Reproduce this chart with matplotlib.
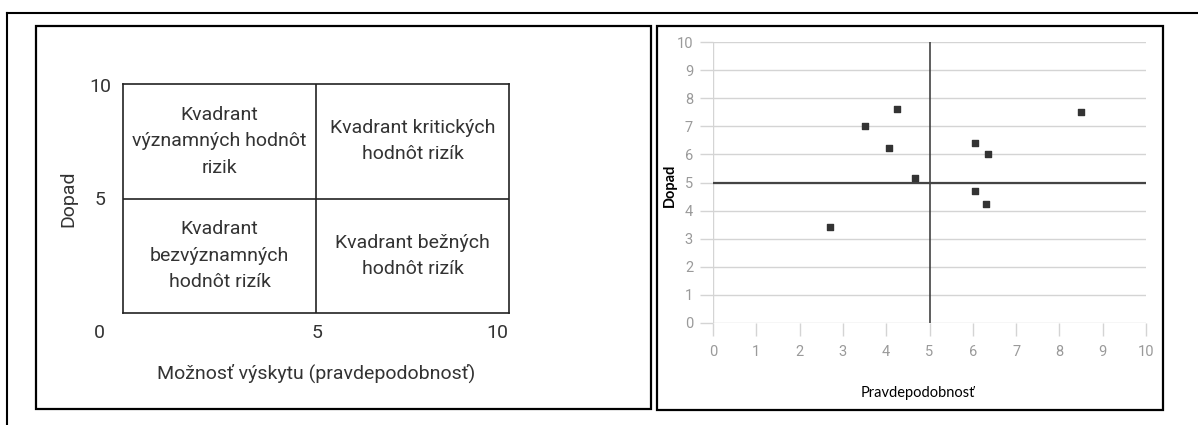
import matplotlib.pyplot as plt
from matplotlib.patches import Rectangle
from matplotlib.lines import Line2D

W, H = 1198, 425

# Quadrant labels (left diagram)
quadrant_labels = [
    "Kvadrant\nvýznamných hodnôt\nrizik",
    "Kvadrant kritických\nhodnôt rizík",
    "Kvadrant\nbezvýznamných\nhodnôt rizík",
    "Kvadrant bežných\nhodnôt rizík",
]
quadrant_pos = [(2.5, 7.5), (7.5, 7.5), (2.5, 2.5), (7.5, 2.5)]

# Risk points (right scatter)
prob = [2.71, 3.52, 4.26, 4.06, 4.66, 6.06, 6.35, 6.06, 6.30, 8.51]
impact = [3.40, 7.02, 7.62, 6.22, 5.16, 6.41, 6.01, 4.71, 4.22, 7.51]
ticks = list(range(0, 11))


def fx(x):
    return x / W


def fy(y):
    return 1 - y / H


fig = plt.figure(figsize=(W / 100, H / 100), dpi=100)
fig.patch.set_facecolor('white')

# outer frame + panel boxes (pixel coords of the reference)
fig.add_artist(Line2D([fx(7), fx(1198)], [fy(13), fy(13)], color='black', lw=1.5))
fig.add_artist(Line2D([fx(7), fx(7)], [fy(13), fy(425)], color='black', lw=1.5))
for x0, y0, x1, y1 in [(36, 26, 651, 409), (657, 26, 1163, 410)]:
    fig.add_artist(Rectangle((fx(x0), fy(y1)), fx(x1 - x0), (y1 - y0) / H,
                             fill=False, edgecolor='black', lw=1.6))

# ---- left: quadrant diagram ----
ax1 = fig.add_axes([fx(123), fy(313), fx(386), 229 / H])
ax1.set_xlim(0, 10)
ax1.set_ylim(0, 10)
ax1.set_xticks([])
ax1.set_yticks([])
for s in ax1.spines.values():
    s.set_linewidth(1.2)
    s.set_color('#222222')
ax1.axvline(5, color='#222222', lw=1.2)
ax1.axhline(5, color='#222222', lw=1.2)

txt = dict(family='Roboto', color='#333333', fontsize=14)
for lab, (qx, qy) in zip(quadrant_labels, quadrant_pos):
    ax1.text(qx, qy, lab, ha='center', va='center', linespacing=1.6, **txt)
ax1.text(-0.62, -0.87, "0", ha='center', va='center', clip_on=False, **txt)
ax1.text(5.03, -0.87, "5", ha='center', va='center', clip_on=False, **txt)
ax1.text(9.69, -0.87, "10", ha='center', va='center', clip_on=False, **txt)
ax1.text(-0.6, 9.87, "10", ha='center', va='center', clip_on=False, **txt)
ax1.text(-0.6, 4.93, "5", ha='center', va='center', clip_on=False, **txt)
ax1.text(-1.42, 5.0, "Dopad", ha='center', va='center', rotation=90, clip_on=False, **txt)
ax1.text(5.0, -2.62, "Možnosť výskytu (pravdepodobnosť)", ha='center', va='center',
         clip_on=False, **txt)

# ---- right: scatter ----
ax2 = fig.add_axes([fx(713), fy(323), fx(433), 281 / H])
ax2.set_xlim(0, 10)
ax2.set_ylim(0, 10)
for s in ax2.spines.values():
    s.set_visible(False)
for t in ticks:
    ax2.axhline(t, color='#d4d4d4', lw=1, zorder=1)
ax2.axvline(0, color='#d4d4d4', lw=1, zorder=1)
ax2.set_xticks(ticks)
ax2.set_yticks(ticks)
ax2.tick_params(axis='both', length=9.4, width=1, color='#d4d4d4',
                labelcolor='#9a9a9a', labelsize=10.5)
ax2.tick_params(axis='y', pad=5)
ax2.tick_params(axis='x', pad=6.5)
for lab in ax2.get_xticklabels() + ax2.get_yticklabels():
    lab.set_family('Roboto')
ax2.axvline(5, color='#333333', lw=1.1, zorder=2)
ax2.axhline(5, color='#444444', lw=1.6, zorder=2)
ax2.scatter(prob, impact, marker='s', s=14, color='#333333', zorder=3)
fig.text(fx(918), fy(393), "Pravdepodobnosť", family='Lato', fontsize=10.5,
         ha='center', va='center')
fig.text(fx(670), fy(185), "Dopad", family='Lato', fontsize=10.5, fontweight='bold',
         rotation=90, ha='center', va='center')

fig.savefig('out.png', dpi=100)
